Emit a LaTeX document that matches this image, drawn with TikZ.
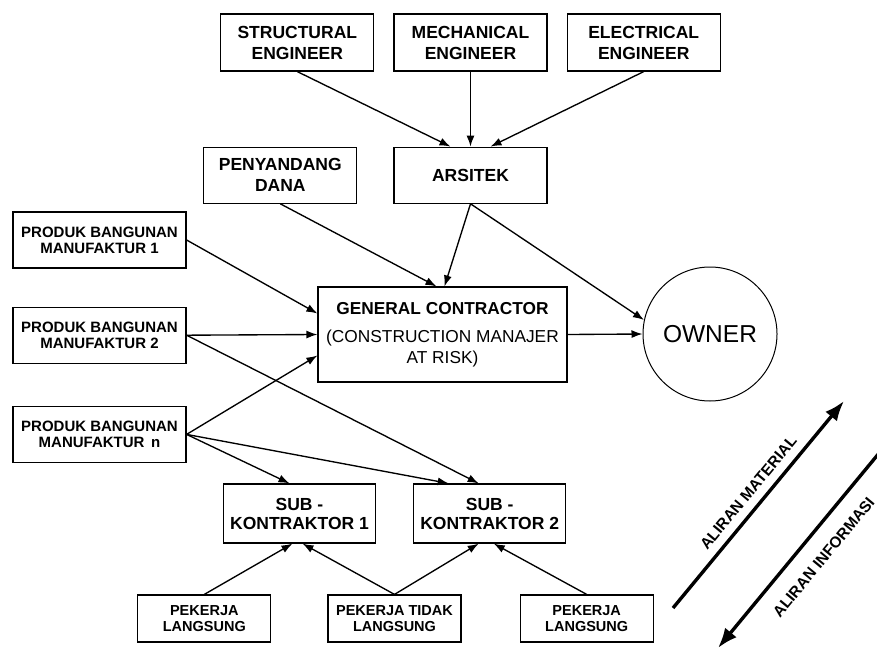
\documentclass[tikz,border=0pt]{standalone}
\usepackage{fontspec}
\setmainfont{Liberation Sans}
\usetikzlibrary{arrows.meta,positioning}
\tikzset{
  box/.style={draw, line width=1.2pt, align=center, inner sep=0pt},
  engbox/.style={box, minimum width=153pt, minimum height=57pt, font=\bfseries\fontsize{17.5}{21}\selectfont},
  prodbox/.style={box, minimum width=173pt, minimum height=56pt, font=\bfseries\fontsize{15}{16}\selectfont},
  subbox/.style={box, minimum width=152pt, minimum height=59pt, font=\bfseries\fontsize{17.5}{19}\selectfont},
  workbox/.style={box, minimum width=133pt, minimum height=47pt, font=\bfseries\fontsize{14.5}{15.5}\selectfont},
  gcbox/.style={box, minimum width=249pt, minimum height=95pt, font=\fontsize{17.3}{21}\selectfont},
  ownernode/.style={draw, circle, line width=1pt, minimum size=134pt, inner sep=0pt, font=\fontsize{24.5}{28}\selectfont},
  arr/.style={-{Latex[length=11pt,width=8pt]}, line width=1.35pt},
  flowarr/.style={-{Latex[length=20pt,width=15pt]}, line width=3.4pt},
  flowlabel/.style={font=\bfseries\fontsize{15.5}{18}\selectfont}
}
\begin{document}
\begin{tikzpicture}[x=1pt, y=-1pt, node distance=19pt]
\useasboundingbox (0,0) rectangle (877,650);
\node[engbox] (mech) at (470.5,42.5) {MECHANICAL\\ENGINEER};
\node[engbox, left=of mech] (struct) {STRUCTURAL\\ENGINEER};
\node[engbox, right=of mech] (elec) {ELECTRICAL\\ENGINEER};
\node[engbox, minimum height=56pt, below=75pt of mech] (arsitek) {ARSITEK};
\node[engbox, minimum height=56pt, left=36pt of arsitek] (dana) {PENYANDANG\\DANA};
\node[prodbox] (prod1) at (99.5,240) {PRODUK BANGUNAN\\MANUFAKTUR 1};
\node[prodbox, below=38pt of prod1] (prod2) {PRODUK BANGUNAN\\MANUFAKTUR 2};
\node[prodbox, below=42pt of prod2] (prodn) {PRODUK BANGUNAN\\MANUFAKTUR \,n};
\node[gcbox] (gc) at (442.5,334.5) {\textbf{GENERAL CONTRACTOR}\\[7pt](CONSTRUCTION MANAJER\\AT RISK)};
\node[ownernode] (owner) at (710,334) {OWNER};
\node[subbox] (sub1) at (299.5,513.5) {SUB -\\KONTRAKTOR 1};
\node[subbox, right=37pt of sub1] (sub2) {SUB -\\KONTRAKTOR 2};
\node[workbox] (tidak) at (394.5,618.5) {PEKERJA TIDAK\\LANGSUNG};
\node[workbox, left=56pt of tidak] (lang1) {PEKERJA\\LANGSUNG};
\node[workbox, right=58pt of tidak] (lang2) {PEKERJA\\LANGSUNG};
\draw[arr] (struct.south) -- ([xshift=-20pt]arsitek.north);
\draw[arr] (mech) -- (arsitek);
\draw[arr] (elec.south) -- ([xshift=20pt]arsitek.north);
\draw[arr] (dana.south) -- ([xshift=-6pt]gc.north);
\draw[arr] (arsitek.south) -- ([xshift=2pt]gc.north);
\draw[arr] (arsitek.south) -- (owner.168);
\draw[arr] (gc.east) -- (owner.west);
\draw[arr] (prod1.east) -- ([yshift=21pt]gc.west);
\draw[arr] (prod2.east) -- (gc.west);
\draw[arr] (prod2.east) -- ([xshift=-11pt]sub2.north);
\draw[arr] (prodn.east) -- ([yshift=-21pt]gc.west);
\draw[arr] (prodn.east) -- ([xshift=-10pt]sub1.north);
\draw[arr] (prodn.east) -- ([xshift=-41pt]sub2.north);
\draw[arr] (lang1.north) -- ([xshift=-7pt]sub1.south);
\draw[arr] (tidak.north) -- ([xshift=3pt]sub1.south);
\draw[arr] (tidak.north) -- ([xshift=-11pt]sub2.south);
\draw[arr] (lang2.north) -- ([xshift=4pt]sub2.south);
\coordinate (matA) at (673,608);
\coordinate (matB) at (844,401);
\coordinate (infA) at (880,452);
\coordinate (infB) at (718,648);
\draw[flowarr] (matA) -- node[flowlabel, sloped, pos=0.51, above=5pt] {ALIRAN MATERIAL} (matB);
\draw[flowarr] (infA) -- node[flowlabel, sloped, pos=0.46, below=13pt] {ALIRAN INFORMASI} (infB);
\end{tikzpicture}
\end{document}
